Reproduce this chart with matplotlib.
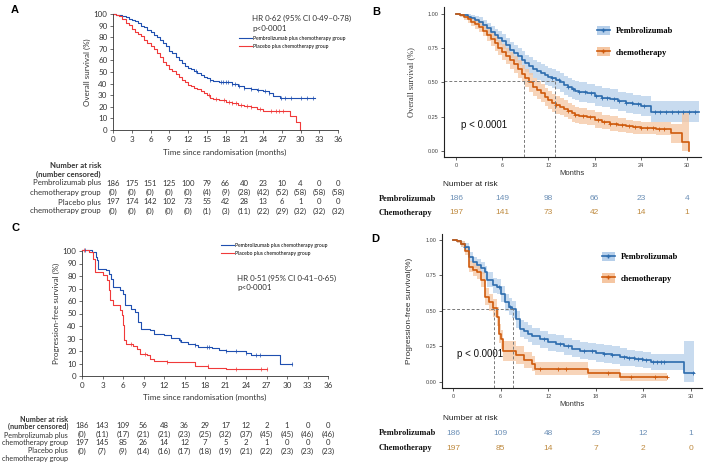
import numpy as np
import matplotlib
matplotlib.use('Agg')
import matplotlib.pyplot as plt
import matplotlib.transforms as mtransforms
from matplotlib.lines import Line2D
from matplotlib.patches import Patch
from matplotlib.legend_handler import HandlerTuple

# ---------------- data ----------------
# A: overall survival (%), Lancet style
tA_pem = [0, 0.5, 1, 1.5, 2, 2.5, 3, 3.5, 4, 4.5, 5, 5.5, 6, 6.5, 7, 7.5, 8, 8.5, 9, 9.5, 10, 10.5, 11, 11.5,
          12, 12.5, 13, 13.5, 14, 14.5, 15, 15.5, 16, 16.5, 17, 18, 19, 20, 21, 22, 23, 24, 25, 25.6, 26.7, 32.3]
sA_pem = [100, 99.5, 99, 98, 97, 96, 95, 94, 92.5, 90, 88.5, 86.5, 84.5, 82, 80, 77.6, 75, 72, 68.5, 66, 63, 60.5,
          57.5, 55, 53.5, 52.5, 51, 49, 47, 45.5, 44.5, 43.5, 42.5, 42, 41.5, 41, 39.5, 38, 36.5, 35, 34.5, 33.5,
          32, 29, 27.5, 27.5]
tA_pla = [0, 0.5, 1, 1.5, 2, 2.5, 3, 3.5, 4, 4.5, 5, 5.5, 6, 6.5, 7, 7.5, 8, 8.5, 9, 9.5, 10, 10.5, 11, 11.5,
          12, 12.5, 13, 13.5, 14, 14.5, 15, 15.5, 16, 17, 18, 19, 20, 21, 22, 23, 24, 26, 28.3, 29.2, 29.9]
sA_pla = [100, 99, 98, 95.5, 92.5, 90.5, 87, 84.5, 82.5, 81, 77.5, 75, 72, 70, 66.5, 63, 59, 56, 53, 50.5, 48,
          46, 43.5, 41, 39, 37.5, 36.5, 35, 34, 32, 30, 28, 26.7, 26, 24.5, 23, 21.5, 20.5, 19.5, 18, 16.5, 16.4,
          12, 7, 0]
cA_pem = [13.2, 15.5, 17.3, 17.6, 18.0, 18.4, 19.0, 19.5, 20.2, 21.0, 22.0, 23.2, 24.3, 25.0, 26.8, 27.5, 28.5,
          30.0, 31.0, 32.0]
cA_pla = [15.3, 16.5, 17.7, 18.5, 19.1, 19.6, 20.5, 21.4, 22.0, 23.5, 25.2, 26.0, 26.5, 27.2]
risk_t_A = [0, 3, 6, 9, 12, 15, 18, 21, 24, 27, 30, 33, 36]
risk_A_pem = [186, 175, 151, 125, 100, 79, 66, 40, 23, 10, 4, 0, 0]
cens_A_pem = [0, 0, 0, 0, 0, 4, 9, 28, 42, 52, 58, 58, 58]
risk_A_pla = [197, 174, 142, 102, 73, 55, 42, 28, 13, 6, 1, 0, 0]
cens_A_pla = [0, 0, 0, 0, 0, 1, 3, 11, 22, 29, 32, 32, 32]

# B: overall survival (fraction) with confidence band
tB_pem = [0, 0.5, 1, 1.5, 2, 2.5, 3, 3.5, 4, 4.5, 5, 5.5, 6, 6.5, 7, 7.5, 8, 8.5, 9, 9.5, 10, 10.5, 11, 11.5,
          12, 12.5, 13, 13.5, 14, 14.5, 15, 15.5, 16, 17, 18, 19, 20, 21, 22, 23, 24, 25.3, 31.6]
sB_pem = [1.0, 0.995, 0.99, 0.98, 0.97, 0.958, 0.944, 0.92, 0.895, 0.87, 0.847, 0.823, 0.80, 0.77, 0.737, 0.712,
          0.69, 0.665, 0.64, 0.62, 0.60, 0.583, 0.567, 0.552, 0.54, 0.53, 0.518, 0.50, 0.48, 0.465, 0.45, 0.44,
          0.43, 0.42, 0.40, 0.39, 0.377, 0.362, 0.348, 0.34, 0.33, 0.287, 0.287]
hB_pem = [0, 0.01, 0.015, 0.02, 0.025, 0.028, 0.032, 0.036, 0.04, 0.044, 0.047, 0.05, 0.053, 0.056, 0.058, 0.06,
          0.062, 0.063, 0.064, 0.065, 0.066, 0.066, 0.067, 0.067, 0.068, 0.068, 0.069, 0.069, 0.07, 0.07, 0.07,
          0.07, 0.07, 0.071, 0.071, 0.071, 0.072, 0.072, 0.072, 0.072, 0.072, 0.078, 0.078]
tB_che = [0, 0.5, 1, 1.5, 2, 2.5, 3, 3.5, 4, 4.5, 5, 5.5, 6, 6.5, 7, 7.5, 8, 8.5, 9, 9.5, 10, 10.5, 11, 11.5,
          12, 12.5, 13, 13.5, 14, 14.5, 15, 15.5, 16, 17, 18, 19, 20, 21, 22, 23, 24, 26, 27.9, 29.3, 30.3]
sB_che = [1.0, 0.99, 0.975, 0.96, 0.944, 0.926, 0.908, 0.878, 0.847, 0.816, 0.786, 0.755, 0.725, 0.695, 0.664,
          0.632, 0.60, 0.565, 0.53, 0.50, 0.47, 0.445, 0.42, 0.395, 0.37, 0.353, 0.336, 0.323, 0.31, 0.292, 0.275,
          0.265, 0.255, 0.245, 0.226, 0.213, 0.20, 0.19, 0.18, 0.174, 0.168, 0.163, 0.13, 0.068, 0.0]
hB_che = [0, 0.012, 0.02, 0.025, 0.03, 0.034, 0.038, 0.042, 0.046, 0.05, 0.053, 0.056, 0.058, 0.06, 0.062, 0.063,
          0.064, 0.065, 0.066, 0.066, 0.066, 0.066, 0.066, 0.066, 0.066, 0.065, 0.064, 0.063, 0.062, 0.061, 0.06,
          0.059, 0.058, 0.056, 0.055, 0.053, 0.052, 0.05, 0.049, 0.048, 0.047, 0.047, 0.07, 0.21, 0.0]
cB_pem = [12.5, 13.4, 14.5, 15.2, 16.0, 16.8, 17.5, 18.2, 19.0, 19.6, 20.5, 21.2, 22.0, 22.8, 23.6, 24.4, 25.8,
          26.5, 27.2, 28.0, 28.8, 29.5, 30.2, 31.0]
cB_che = [13.0, 14.5, 15.5, 16.5, 17.4, 18.4, 19.2, 20.0, 20.8, 21.6, 22.4, 23.2, 24.0, 24.8, 25.6, 26.4, 27.0]
medB = [8.76, 12.86]
risk_t_B = [0, 6, 12, 18, 24, 30]
risk_B_pem = [186, 149, 98, 66, 23, 4]
risk_B_che = [197, 141, 73, 42, 14, 1]

# C: progression-free survival (%), Lancet style
tC_pem = [0, 1.5, 2, 2.2, 2.4, 3.5, 4, 4.2, 4.5, 5.5, 6, 6.3, 7.2, 7.8, 8.2, 8.6, 10, 10.5, 12, 13, 14.2, 14.5,
          15.5, 16.5, 17, 19, 20, 21, 24, 24.8, 29, 30.8]
sC_pem = [101, 99, 95, 92.5, 86, 84.5, 82, 78, 71, 68.5, 66, 56.5, 54, 51, 43, 38, 36.5, 34, 32.5, 30.7, 28.5, 27,
          26, 24.5, 23, 22.7, 21, 19.7, 18.4, 16.5, 9.3, 9.3]
tC_pla = [0, 1, 1.6, 1.9, 3, 3.6, 4, 4.1, 4.5, 5.5, 5.9, 6, 6.2, 6.4, 7.5, 8, 8.5, 9.5, 10, 10.5, 12.5, 16.5,
          18.5, 21, 27]
sC_pla = [101, 99, 94, 83, 80.5, 77, 68.5, 60.5, 56.5, 52.5, 48.5, 40.5, 28.5, 25.3, 23.7, 22, 17.9, 16.5, 14, 12,
          11, 8, 6.7, 6, 6]
cC_pem = [0.5, 14.3, 16.6, 18.3, 18.6, 21.0, 22.6, 24.0, 25.5, 26.0, 30.8]
cC_pla = [0.3, 7.2, 9.2, 12.5, 18.4, 22.6, 26.2, 27.0]
risk_t_C = [0, 3, 6, 9, 12, 15, 18, 21, 24, 27, 30, 33, 36]
risk_C_pem = [186, 143, 109, 56, 48, 36, 29, 17, 12, 2, 1, 0, 0]
cens_C_pem = [0, 11, 17, 21, 21, 23, 25, 32, 37, 45, 45, 46, 46]
risk_C_pla = [197, 145, 85, 26, 14, 12, 7, 5, 2, 1, 0, 0, 0]
cens_C_pla = [0, 7, 9, 14, 16, 17, 18, 19, 21, 22, 23, 23, 23]

# D: progression-free survival (fraction) with confidence band
tD_pem = [0, 0.5, 1, 1.5, 2, 2.5, 3, 3.5, 4, 4.3, 5, 5.5, 6, 6.5, 7, 7.5, 8, 8.5, 9, 9.5, 10, 11, 12, 13, 14, 15,
          16, 17, 18, 19, 20, 21, 22, 23, 24, 25, 29.1, 30.4]
sD_pem = [1.0, 0.99, 0.97, 0.95, 0.88, 0.84, 0.82, 0.80, 0.77, 0.72, 0.68, 0.67, 0.62, 0.56, 0.53, 0.51, 0.44,
          0.375, 0.36, 0.34, 0.32, 0.30, 0.28, 0.27, 0.25, 0.234, 0.22, 0.216, 0.204, 0.197, 0.19, 0.176, 0.17,
          0.163, 0.157, 0.14, 0.066, 0.066]
hD_pem = [0, 0.01, 0.02, 0.025, 0.035, 0.04, 0.042, 0.044, 0.046, 0.05, 0.052, 0.054, 0.056, 0.058, 0.06, 0.06,
          0.06, 0.06, 0.06, 0.06, 0.06, 0.06, 0.06, 0.06, 0.06, 0.06, 0.06, 0.06, 0.06, 0.06, 0.06, 0.06, 0.058,
          0.058, 0.056, 0.056, 0.224, 0.224]
tD_che = [0, 0.5, 1, 1.5, 2, 2.5, 3, 3.5, 4, 4.5, 5, 5.5, 5.8, 6, 6.3, 7.5, 8, 9, 10, 10.3, 16.8, 17, 21, 27]
sD_che = [1.0, 0.99, 0.97, 0.92, 0.81, 0.79, 0.77, 0.72, 0.60, 0.56, 0.52, 0.46, 0.34, 0.30, 0.22, 0.22, 0.19,
          0.155, 0.13, 0.095, 0.095, 0.06, 0.036, 0.036]
hD_che = [0, 0.01, 0.02, 0.03, 0.04, 0.045, 0.048, 0.052, 0.058, 0.06, 0.062, 0.064, 0.066, 0.068, 0.07, 0.07,
          0.065, 0.058, 0.052, 0.045, 0.045, 0.032, 0.03, 0.03]
cD_pem = [1.5, 5.8, 7.2, 11.5, 13.5, 14.5, 16.5, 17.5, 19.0, 20.0, 21.5, 22.2, 22.8, 23.3, 23.8, 24.3, 25.2,
          25.7, 26.2, 26.6, 30.3]
cD_che = [11.0, 13.3, 14.3, 19.5, 22.5, 25.5, 27.0]
medD = [5.17, 7.6]
risk_t_D = [0, 6, 12, 18, 24, 30]
risk_D_pem = [186, 109, 48, 29, 12, 1]
risk_D_che = [197, 85, 14, 7, 2, 0]

# ---------------- styles ----------------
W, H = 708, 473
blueA = '#1f4fb0'
redA = '#f03a3a'
blueB = '#2d6cae'
orangeB = '#cf5a0c'
bandB_blue = '#b6cfea'
bandB_orange = '#f5c6a2'
numB_blue = '#6b8fb6'
numB_orange = '#bf8a3f'
lancet_font = 'Lato'


def box(l, t, r, b):
    return [l / W, 1 - b / H, (r - l) / W, (b - t) / H]


def fx(x):
    return x / W


def fy(y):
    return 1 - y / H


def step_at(t, s, c):
    idx = np.searchsorted(t, c, side='right') - 1
    return np.asarray(s)[idx]


fig = plt.figure(figsize=(W / 100, H / 100), dpi=100)
fig.patch.set_facecolor('white')


def lancet_axes(ax):
    for sp in ['top', 'right']:
        ax.spines[sp].set_visible(False)
    for sp in ['left', 'bottom']:
        ax.spines[sp].set_linewidth(0.6)
        ax.spines[sp].set_color('#333333')
    ax.tick_params(labelsize=5.8, length=2.5, width=0.5, pad=1.5, colors='#333333')
    for lab in ax.get_xticklabels() + ax.get_yticklabels():
        lab.set_family(lancet_font)


def r_axes(ax):
    for sp in ['top', 'right']:
        ax.spines[sp].set_visible(False)
    for sp in ['left', 'bottom']:
        ax.spines[sp].set_linewidth(0.8)
        ax.spines[sp].set_color('#222222')
    ax.tick_params(labelsize=4, length=2, width=0.6, pad=2, colors='#444444')
    for lab in ax.get_xticklabels() + ax.get_yticklabels():
        lab.set_family('Liberation Sans')


# ---------------- panel A ----------------
axA = fig.add_axes(box(113, 14, 338, 130))
axA.step(tA_pem, sA_pem, where='post', color=blueA, lw=0.8, label='Pembrolizumab plus chemotherapy group')
axA.step(tA_pla, sA_pla, where='post', color=redA, lw=0.8, label='Placebo plus chemotherapy group')
axA.plot(cA_pem, step_at(tA_pem, sA_pem, cA_pem), '|', color=blueA, ms=2.2, mew=0.5)
axA.plot(cA_pla, step_at(tA_pla, sA_pla, cA_pla), '|', color=redA, ms=2.2, mew=0.5)
axA.set_xlim(0, 36)
axA.set_ylim(0, 100)
axA.set_xticks(range(0, 37, 3))
axA.set_yticks(range(0, 101, 10))
lancet_axes(axA)
axA.set_ylabel('Overall survival (%)', fontsize=5.8, family=lancet_font, color='#333333', labelpad=2)
fig.text(fx(225), fy(152), 'Time since randomisation (months)', ha='center', va='center',
         fontsize=5.8, family=lancet_font, color='#333333')
axA.text(0.62, 0.99, 'HR 0·62 (95% CI 0·49–0·78)\np<0·0001', transform=axA.transAxes,
         ha='left', va='top', fontsize=5.8, family=lancet_font, color='#333333', linespacing=1.4)
axA.legend(loc='upper left', bbox_to_anchor=(fx(239), fy(36)), bbox_transform=fig.transFigure,
           frameon=False, handlelength=2.5, handletextpad=0.3, labelspacing=0.6,
           borderpad=0, borderaxespad=0, prop={'family': lancet_font, 'size': 3.6})

trA = mtransforms.blended_transform_factory(axA.transData, fig.transFigure)
rowsA = [(risk_A_pem, None, 183), (cens_A_pem, True, 192), (risk_A_pla, None, 202), (cens_A_pla, True, 211)]
for vals, paren, y in rowsA:
    for t, v in zip(risk_t_A, vals):
        txt = '(%d)' % v if paren else str(v)
        axA.text(t, fy(y), txt, transform=trA, ha='center', va='center', fontsize=5.6,
                 family=lancet_font, color='#333333')
for txt, y, bold in [('Number at risk', 165, True), ('(number censored)', 174, True),
                     ('Pembrolizumab plus', 183, False), ('chemotherapy group', 192, False),
                     ('Placebo plus', 202, False), ('chemotherapy group', 211, False)]:
    fig.text(fx(101), fy(y), txt, ha='right', va='center', fontsize=5.6, family=lancet_font,
             fontweight='bold' if bold else 'normal', color='#333333')

# ---------------- panel C ----------------
axC = fig.add_axes(box(82, 251, 328, 376))
axC.step(tC_pem, sC_pem, where='post', color=blueA, lw=0.8, label='Pembrolizumab plus chemotherapy group')
axC.step(tC_pla, sC_pla, where='post', color=redA, lw=0.8, label='Placebo plus chemotherapy group')
axC.plot(cC_pem, step_at(tC_pem, sC_pem, cC_pem), '|', color=blueA, ms=2.2, mew=0.5)
axC.plot(cC_pla, step_at(tC_pla, sC_pla, cC_pla), '|', color=redA, ms=2.2, mew=0.5)
axC.set_xlim(0, 36)
axC.set_ylim(0, 100)
axC.set_xticks(range(0, 37, 3))
axC.set_yticks(range(0, 101, 10))
lancet_axes(axC)
for l in [axA.lines, axC.lines]:
    for ln in l:
        ln.set_clip_on(False)
axC.set_ylabel('Progression-free survival (%)', fontsize=5.8, family=lancet_font, color='#333333', labelpad=2)
fig.text(fx(205), fy(397), 'Time since randomisation (months)', ha='center', va='center',
         fontsize=5.8, family=lancet_font, color='#333333')
axC.text(0.63, 0.81, 'HR 0·51 (95% CI 0·41–0·65)\np<0·0001', transform=axC.transAxes,
         ha='left', va='top', fontsize=5.8, family=lancet_font, color='#333333', linespacing=1.4)
axC.legend(loc='upper left', bbox_to_anchor=(fx(221), fy(243)), bbox_transform=fig.transFigure,
           frameon=False, handlelength=2.5, handletextpad=0.3, labelspacing=0.6,
           borderpad=0, borderaxespad=0, prop={'family': lancet_font, 'size': 3.6})

trC = mtransforms.blended_transform_factory(axC.transData, fig.transFigure)
rowsC = [(risk_C_pem, False, 425), (cens_C_pem, True, 434), (risk_C_pla, False, 442), (cens_C_pla, True, 451)]
for vals, paren, y in rowsC:
    for t, v in zip(risk_t_C, vals):
        txt = '(%d)' % v if paren else str(v)
        axC.text(t, fy(y), txt, transform=trC, ha='center', va='center', fontsize=5.6,
                 family=lancet_font, color='#333333')
for txt, y, bold in [('Number at risk', 419, True), ('(number censored)', 426, True),
                     ('Pembrolizumab plus', 435, False), ('chemotherapy group', 442, False),
                     ('Placebo plus', 450, False), ('chemotherapy group', 458, False)]:
    fig.text(fx(68), fy(y), txt, ha='right', va='center', fontsize=5.2, family=lancet_font,
             fontweight='bold' if bold else 'normal', color='#333333')


# ---------------- panels B and D ----------------
def r_panel(rect, xlim, ylim, t1, s1, h1, c1, t2, s2, h2, c2, med, ylabel, yfont, risk_t, r1, r2,
            risk_y, legend_xy, p_xy):
    ax = fig.add_axes(rect)
    for t, s, h, col, band in [(t1, s1, h1, blueB, bandB_blue), (t2, s2, h2, orangeB, bandB_orange)]:
        s = np.asarray(s)
        h = np.asarray(h)
        ax.fill_between(t, np.clip(s - h, 0, 1), np.clip(s + h, 0, 1), step='post', color=band,
                        alpha=0.75, lw=0)
    ax.step(t1, s1, where='post', color=blueB, lw=1.2)
    ax.step(t2, s2, where='post', color=orangeB, lw=1.2)
    ax.plot(c1, step_at(t1, s1, c1), '+', color=blueB, ms=3, mew=0.6)
    ax.plot(c2, step_at(t2, s2, c2), '+', color=orangeB, ms=3, mew=0.6)
    lev = 0.51
    ax.hlines(lev, xlim[0], max(med), colors='#7a7a7a', linestyles=(0, (3, 2)), lw=0.7)
    ax.vlines(med, ylim[0], lev, colors='#7a7a7a', linestyles=(0, (3, 2)), lw=0.7)
    ax.set_xlim(*xlim)
    ax.set_ylim(*ylim)
    ax.set_xticks(range(0, 31, 6))
    ax.set_yticks([0, 0.25, 0.5, 0.75, 1.0])
    ax.set_yticklabels(['0.00', '0.25', '0.50', '0.75', '1.00'])
    r_axes(ax)
    ax.set_ylabel(ylabel, fontsize=6, family=yfont, color='#333333', labelpad=9)
    ax.set_xlabel('Months', fontsize=5.5, family='Liberation Sans', color='#333333', labelpad=2)
    fig.text(fx(p_xy[0]), fy(p_xy[1]), 'p < 0.0001', ha='left', va='center', fontsize=7,
             family='Liberation Sans', color='#111111')
    handles = [(Patch(fc=bandB_blue, ec='none'), Line2D([], [], color=blueB, lw=1.2, marker='+', ms=3.5)),
               (Patch(fc=bandB_orange, ec='none'), Line2D([], [], color=orangeB, lw=1.2, marker='+', ms=3.5))]
    ax.legend(handles, ['Pembrolizumab', 'chemotherapy'], handler_map={tuple: HandlerTuple(ndivide=1)},
              loc='upper left', bbox_to_anchor=(fx(legend_xy[0]), fy(legend_xy[1])),
              bbox_transform=fig.transFigure, frameon=False, handlelength=1.5, handleheight=1.3,
              handletextpad=0.8, labelspacing=1.45, borderpad=0, borderaxespad=0,
              prop={'family': 'Liberation Serif', 'weight': 'bold', 'size': 6})
    tr = mtransforms.blended_transform_factory(ax.transData, fig.transFigure)
    fig.text(fx(443), fy(risk_y[0]), 'Number at risk', ha='left', va='center', fontsize=6,
             family='Liberation Sans', color='#222222')
    for vals, col, y, name in [(r1, numB_blue, risk_y[1], 'Pembrolizumab'),
                               (r2, numB_orange, risk_y[2], 'Chemotherapy')]:
        fig.text(fx(379), fy(y), name, ha='left', va='center', fontsize=6, family='Liberation Serif',
                 fontweight='bold', color='#111111')
        for t, v in zip(risk_t, vals):
            ax.text(t, fy(y), str(v), transform=tr, ha='center', va='center', fontsize=6,
                    family='Liberation Sans', color=col)
    return ax


axB = r_panel(box(444, 7, 701, 157), (-1.56, 31.8), (-0.044, 1.051),
              tB_pem, sB_pem, hB_pem, cB_pem, tB_che, sB_che, hB_che, cB_che, medB,
              'Overall survival (%)', 'Liberation Serif', risk_t_B, risk_B_pem, risk_B_che,
              (185, 199, 213), (597, 26), (461, 125))
axD = r_panel(box(442, 234, 702, 388), (-1.39, 31.4), (-0.042, 1.04),
              tD_pem, sD_pem, hD_pem, cD_pem, tD_che, sD_che, hD_che, cD_che, medD,
              'Progression-free survival(%)', 'Liberation Sans', risk_t_D, risk_D_pem, risk_D_che,
              (418, 433, 448), (602, 252), (457, 354))

for lab, x, y in [('A', 15, 10), ('B', 376, 12), ('C', 15, 228), ('D', 375, 239)]:
    fig.text(fx(x), fy(y), lab, ha='center', va='center', fontsize=8, fontweight='bold',
             family='Liberation Sans')

fig.savefig('out.png', dpi=100)
